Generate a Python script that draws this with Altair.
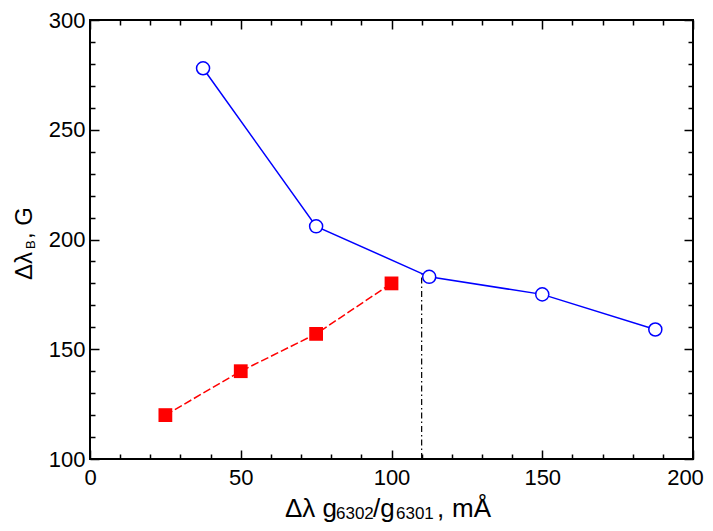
import altair as alt
import pandas as pd

# ---- data ----
blue_x = [37.5, 75, 112.5, 150, 187.5]
blue_y = [278, 206, 183, 175, 159]
red_x = [25, 50, 75, 100]
red_y = [120, 140, 157, 180]
vline_x = [110, 110]
vline_y = [100, 184.5]
x_ticks = list(range(0, 201, 10))
y_ticks = list(range(100, 301, 10))
x_title_parts = ["Δλ g", "6302", "/g", "6301", ",", "mÅ"]
y_title_parts = ["Δλ", "B", ", G"]

W, H = 603, 439
FONT = "Liberation Sans"
MAJOR, MINOR = 9, 5

blue = pd.DataFrame({"x": blue_x, "y": blue_y})
red = pd.DataFrame({"x": red_x, "y": red_y})
vl = pd.DataFrame({"x": vline_x, "y": vline_y})

xs = alt.Scale(domain=[0, 200], nice=False, zero=False)
ys = alt.Scale(domain=[100, 300], nice=False, zero=False)


def ax(orient, labels):
    vals = x_ticks if orient in ("bottom", "top") else y_ticks
    kw = dict(
        orient=orient,
        values=vals,
        title=None,
        grid=False,
        domain=False,
        tickSize={"expr": f"datum.value % 50 === 0 ? -{MAJOR} : -{MINOR}"},
        tickColor="black",
        tickWidth=1.5,
        labels=labels,
    )
    if labels:
        kw.update(
            labelExpr="datum.value % 50 === 0 ? datum.label : ''",
            labelFont=FONT,
            labelFontSize=22,
            labelColor="black",
            labelFlush=False,
            labelOverlap=False,
            labelPadding=(5 if orient == "left" else 8) + MAJOR,
        )
        if orient == "bottom":
            kw["labelOffset"] = {"expr": "datum.value === 200 ? -8 : 0"}
    return alt.Axis(**kw)


blue_line = alt.Chart(blue).mark_line(color="#0000FF", strokeWidth=1.5).encode(
    x=alt.X("x:Q", scale=xs, axis=ax("bottom", True)),
    y=alt.Y("y:Q", scale=ys, axis=ax("left", True)),
)
blue_pts = alt.Chart(blue).mark_point(
    shape="circle", size=170, filled=True, fill="white", stroke="#0000FF", strokeWidth=1.5, opacity=1
).encode(x=alt.X("x:Q", scale=xs, axis=None), y=alt.Y("y:Q", scale=ys, axis=None))

red_line = alt.Chart(red).mark_line(color="#FF0000", strokeWidth=1.5, strokeDash=[8, 3]).encode(
    x=alt.X("x:Q", scale=xs, axis=ax("top", False)),
    y=alt.Y("y:Q", scale=ys, axis=ax("right", False)),
)
red_pts = alt.Chart(red).mark_point(shape="square", size=190, filled=True, color="#FF0000", opacity=1).encode(
    x=alt.X("x:Q", scale=xs, axis=None), y=alt.Y("y:Q", scale=ys, axis=None)
)

vline = alt.Chart(vl).mark_line(color="black", strokeWidth=1.2, strokeDash=[6, 3, 1.5, 3]).encode(
    x=alt.X("x:Q", scale=xs, axis=None), y=alt.Y("y:Q", scale=ys, axis=None)
)

# ---- axis titles with subscripts (text pieces) ----
x_pos = [195, 246, 283, 306, 347, 362]
x_base = [497, 499, 497, 499, 497, 497]
x_size = [26, 17, 26, 17, 26, 26]
title_layers = []
for t, px, py, fs in zip(x_title_parts, x_pos, x_base, x_size):
    title_layers.append(
        alt.Chart(pd.DataFrame({"t": [t]})).mark_text(
            align="left", baseline="alphabetic", font=FONT, fontSize=fs, color="black"
        ).encode(text="t:N", x=alt.value(px), y=alt.value(py))
    )

y_pos = [260, 229, 219]
y_base = [-58, -55, -58]
y_size = [24, 13, 24]
for t, py, px, fs in zip(y_title_parts, y_pos, y_base, y_size):
    title_layers.append(
        alt.Chart(pd.DataFrame({"t": [t]})).mark_text(
            align="left", baseline="alphabetic", font=FONT, fontSize=fs, color="black", angle=270
        ).encode(text="t:N", x=alt.value(px), y=alt.value(py))
    )

chart = (
    alt.layer(vline, blue_line, blue_pts, red_line, red_pts, *title_layers)
    .resolve_axis(x="independent", y="independent")
    .properties(
        width=W,
        height=H,
        autosize=alt.AutoSizeParams(type="none"),
        padding={"left": 82, "top": 12, "right": 12, "bottom": 64},
        background="white",
    )
    .configure_view(stroke="black", strokeWidth=2)
)

chart.save("out.html", embed_options={"renderer": "svg", "actions": False})
